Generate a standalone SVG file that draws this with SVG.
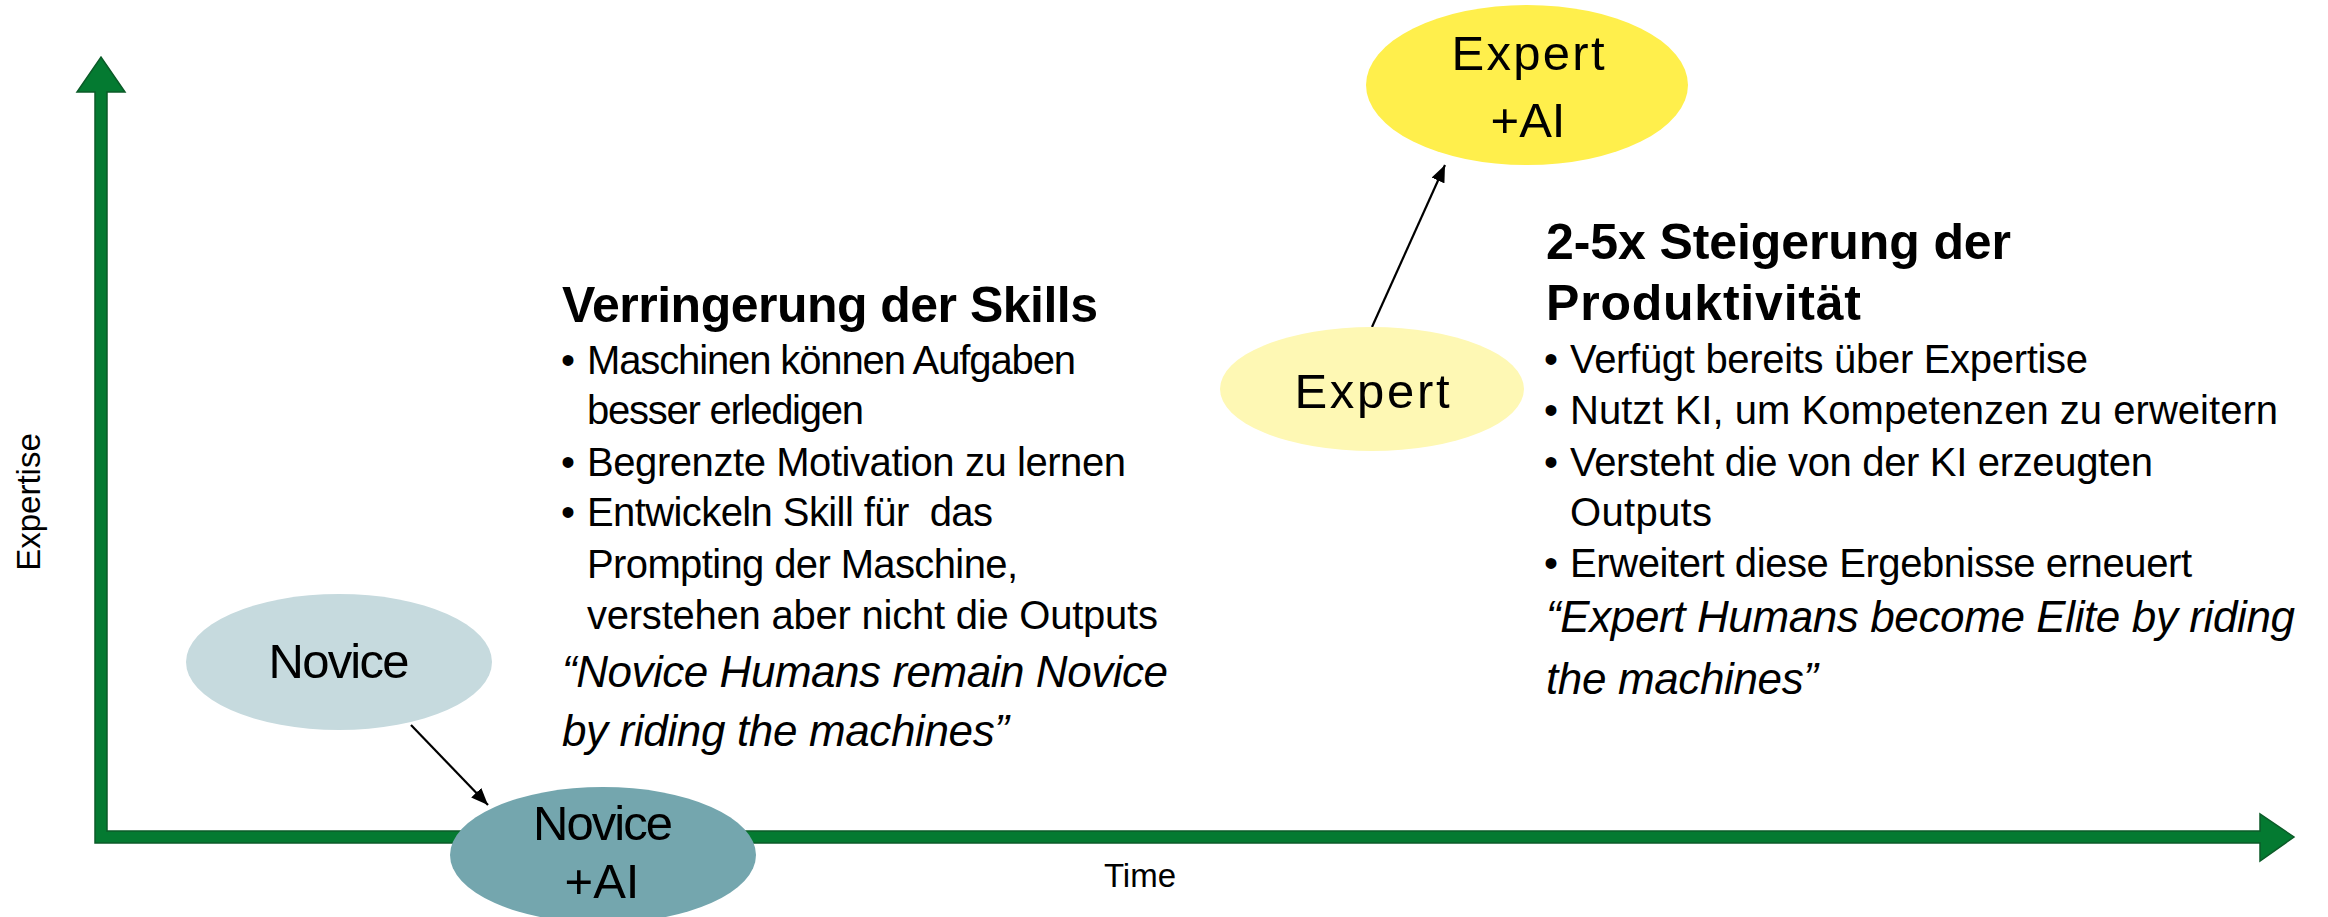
<svg xmlns="http://www.w3.org/2000/svg" width="2328" height="917" viewBox="0 0 2328 917">
<style>
.axis{fill:#047a31;stroke:#0b5b28;stroke-width:1.5;stroke-linejoin:miter}
.lbl{font-family:"Liberation Sans",Arial,sans-serif;font-size:49px;fill:#000;text-anchor:middle}
.ax{font-family:"Liberation Sans",Arial,sans-serif;font-size:33px;fill:#000;text-anchor:middle}
.hd{font-family:"Liberation Sans",Arial,sans-serif;font-size:50px;font-weight:bold;fill:#000}
.bd{font-family:"Liberation Sans",Arial,sans-serif;font-size:40px;fill:#000}
.qt{font-family:"Liberation Sans",Arial,sans-serif;font-size:44px;font-style:italic;fill:#000}
.conn{stroke:#000;stroke-width:2.2;fill:none;marker-end:url(#ah)}
</style>
<defs>
<marker id="ah" markerUnits="userSpaceOnUse" markerWidth="18" markerHeight="14" refX="17" refY="7" orient="auto">
<path d="M0,0 L17,7 L0,14 z" fill="#000"/>
</marker>
</defs>
<rect width="2328" height="917" fill="#fff"/>
<g id="axes">
<polygon class="axis" points="95,843 95,92 77,92 101,57 125,92 107,92 107,831 2260,831 2260,814 2294,837 2260,861 2260,843"/>
<text class="ax" transform="translate(40,502) rotate(-90)">Expertise</text>
<text class="ax" x="1140" y="887">Time</text>
</g>
<g id="connectors">
<line class="conn" x1="411" y1="725" x2="488" y2="805"/>
<line class="conn" x1="1372" y1="327" x2="1445" y2="165"/>
</g>
<g id="novice">
<ellipse cx="339" cy="662" rx="153" ry="68" fill="#c6dade"/>
<text class="lbl" x="339" y="678" textLength="141">Novice</text>
</g>
<g id="novice-ai">
<ellipse cx="603" cy="855" rx="153" ry="68" fill="#74a6ae"/>
<text class="lbl" x="603" y="840" textLength="140">Novice</text>
<text class="lbl" x="602" y="898">+AI</text>
</g>
<g id="expert">
<ellipse cx="1372" cy="389" rx="152" ry="62" fill="#fef8b4"/>
<text class="lbl" x="1372" y="408" textLength="155">Expert</text>
</g>
<g id="expert-ai">
<ellipse cx="1527" cy="85" rx="161" ry="80" fill="#ffef4c"/>
<text class="lbl" x="1528" y="70" textLength="153">Expert</text>
<text class="lbl" x="1528" y="137">+AI</text>
</g>
<g id="text-novice">
<text class="hd" x="562" y="322" textLength="536">Verringerung der Skills</text>
<text class="bd" x="561" y="374">•</text>
<text class="bd" x="587" y="374" textLength="489">Maschinen können Aufgaben</text>
<text class="bd" x="587" y="424" textLength="277">besser erledigen</text>
<text class="bd" x="561" y="476">•</text>
<text class="bd" x="587" y="476" textLength="539">Begrenzte Motivation zu lernen</text>
<text class="bd" x="561" y="526">•</text>
<text class="bd" x="587" y="526" textLength="406" xml:space="preserve">Entwickeln Skill für  das</text>
<text class="bd" x="587" y="578" textLength="431">Prompting der Maschine,</text>
<text class="bd" x="587" y="629" textLength="571">verstehen aber nicht die Outputs</text>
<text class="qt" x="562" y="687" textLength="606">“Novice Humans remain Novice</text>
<text class="qt" x="562" y="746" textLength="447">by riding the machines”</text>
</g>
<g id="text-expert">
<text class="hd" x="1546" y="259" textLength="465">2-5x Steigerung der</text>
<text class="hd" x="1546" y="320" textLength="315">Produktivität</text>
<text class="bd" x="1544" y="373">•</text>
<text class="bd" x="1570" y="373" textLength="518">Verfügt bereits über Expertise</text>
<text class="bd" x="1544" y="424">•</text>
<text class="bd" x="1570" y="424" textLength="708">Nutzt KI, um Kompetenzen zu erweitern</text>
<text class="bd" x="1544" y="476">•</text>
<text class="bd" x="1570" y="476" textLength="583">Versteht die von der KI erzeugten</text>
<text class="bd" x="1570" y="526" textLength="142">Outputs</text>
<text class="bd" x="1544" y="577">•</text>
<text class="bd" x="1570" y="577" textLength="622">Erweitert diese Ergebnisse erneuert</text>
<text class="qt" x="1546" y="632" textLength="749">“Expert Humans become Elite by riding</text>
<text class="qt" x="1546" y="694" textLength="272">the machines”</text>
</g>
</svg>
